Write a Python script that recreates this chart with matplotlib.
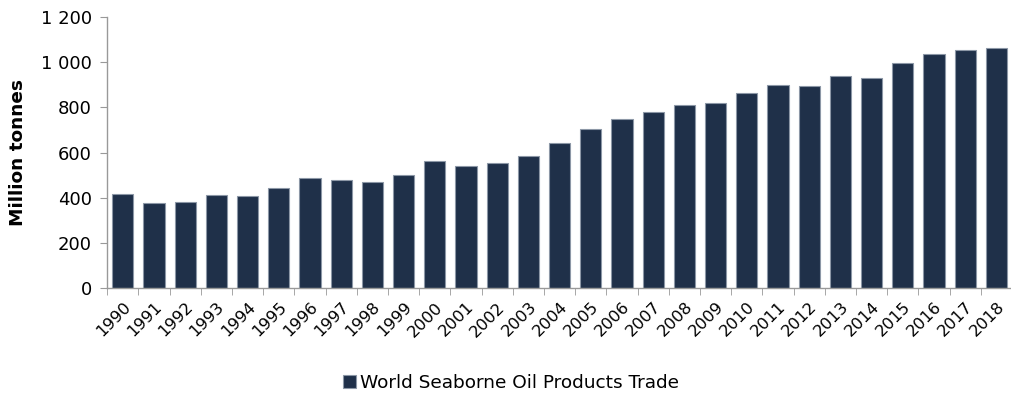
import numpy as np
import matplotlib
matplotlib.use('Agg')
import matplotlib.pyplot as plt
from matplotlib.ticker import FuncFormatter, FixedLocator

years = [str(y) for y in range(1990, 2019)]
trade = [415, 375, 381, 413, 410, 444, 486, 481, 472, 502,
         561, 540, 552, 583, 641, 704, 751, 782, 812, 818,
         864, 898, 897, 939, 930, 998, 1036, 1054, 1061]
series_name = 'World Seaborne Oil Products Trade'
yticks = [0, 200, 400, 600, 800, 1000, 1200]

plt.rcParams['font.family'] = ['DejaVu Sans']

fig = plt.figure(figsize=(10.12, 3.97), dpi=100)
ax = fig.add_axes([0.106, 0.274, 0.894, 0.683])

x = np.arange(len(years))
ax.bar(x, trade, width=0.68, color='#1f3049', edgecolor='#8c97a6',
       linewidth=0.8, label=series_name, zorder=2)

ax.set_xlim(-0.5, len(years) - 0.5)
ax.set_ylim(0, 1200)
ax.set_yticks(yticks)
ax.yaxis.set_major_formatter(FuncFormatter(lambda v, p: f'{int(v):,}'.replace(',', ' ')))

ax.set_xticks(x)
ax.set_xticklabels(years, rotation=45, ha='right', rotation_mode='anchor', fontsize=11.8)
ax.xaxis.set_minor_locator(FixedLocator(np.arange(-0.5, len(years), 1.0)))
ax.tick_params(axis='x', which='major', length=0, pad=8)
ax.tick_params(axis='x', which='minor', length=5, color='#999999', direction='out')
ax.tick_params(axis='y', length=5, color='#999999', labelsize=13, pad=6)

for s in ['top', 'right']:
    ax.spines[s].set_visible(False)
for s in ['left', 'bottom']:
    ax.spines[s].set_color('#999999')
    ax.spines[s].set_linewidth(1.0)

ax.set_ylabel('Million tonnes', fontsize=13.3, fontweight='bold', labelpad=10)

fig.legend(loc='center', bbox_to_anchor=(0.505, 0.035), frameon=False,
           fontsize=13.3, handlelength=0.7, handleheight=0.7, handletextpad=0.25)

fig.savefig('out.png', dpi=100)
